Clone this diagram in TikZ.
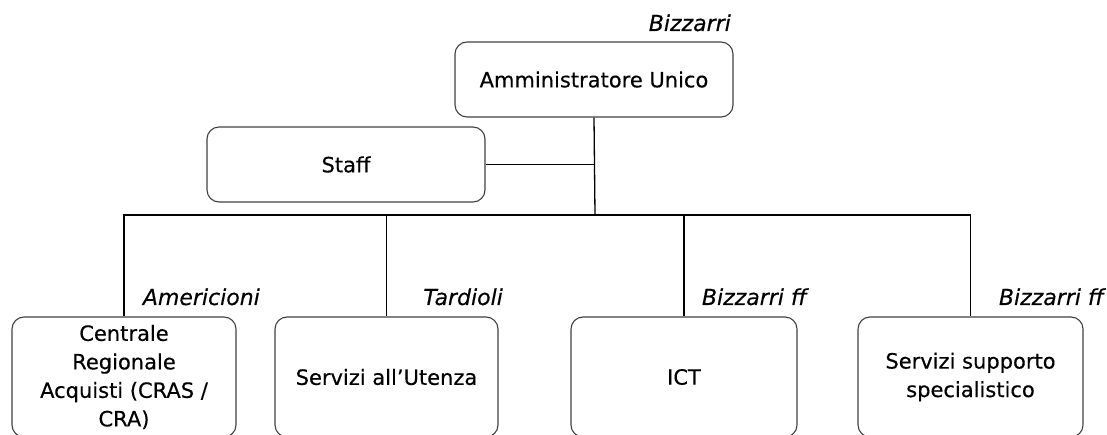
\documentclass[tikz,border=0pt]{standalone}
\usepackage{fontspec}
\setmainfont{DejaVu Sans}
\begin{document}
\begin{tikzpicture}[x=1pt,y=-1pt,
  box/.style={draw=black!75, line width=1.1pt, rounded corners=12pt, align=center,
    font=\fontsize{21}{28.5}\selectfont\addfontfeature{FakeBold=0.4}, inner sep=0pt},
  lab/.style={font=\fontsize{22}{24}\selectfont\itshape\addfontfeature{FakeBold=0.4}, anchor=base east, inner sep=0pt},
  conn/.style={draw=black, line width=1.3pt}]
\useasboundingbox (0,0) rectangle (1107,435);
\clip (0,0) rectangle (1107,435);
\node[box, minimum width=278pt, minimum height=75pt] (top) at (594,79.5) {Amministratore Unico};
\node[box, minimum width=278pt, minimum height=75pt] (staff) at (346,164.5) {Staff};
\node[box, minimum width=224pt, minimum height=120pt] (b1) at (124,377) {Centrale\\Regionale\\Acquisti (CRAS /\\CRA)};
\node[box, minimum width=223pt, minimum height=120pt] (b2) at (386.5,377) {Servizi all’Utenza};
\node[box, minimum width=226pt, minimum height=120pt] (b3) at (684,377) {ICT};
\node[box, minimum width=225pt, minimum height=120pt] (b4) at (970.5,377) {Servizi supporto\\specialistico};
\node[lab] (l0) at (731,31) {Bizzarri};
\node[lab] (l1) at (260,305) {Americioni};
\node[lab] (l2) at (503,305) {Tardioli};
\node[lab] (l3) at (807,305) {Bizzarri ff};
\node[lab] (l4) at (1104,305) {Bizzarri ff};
\coordinate (j) at (595,215);
\draw[conn] (top.south) -- (j);
\draw[conn] (staff.east) -- (staff.east -| top.south);
\draw[conn] (b1.north) -- (b1.north |- j) -- (b4.north |- j) -- (b4.north);
\draw[conn] (b2.north) -- (b2.north |- j);
\draw[conn] (b3.north) -- (b3.north |- j);
\end{tikzpicture}
\end{document}
